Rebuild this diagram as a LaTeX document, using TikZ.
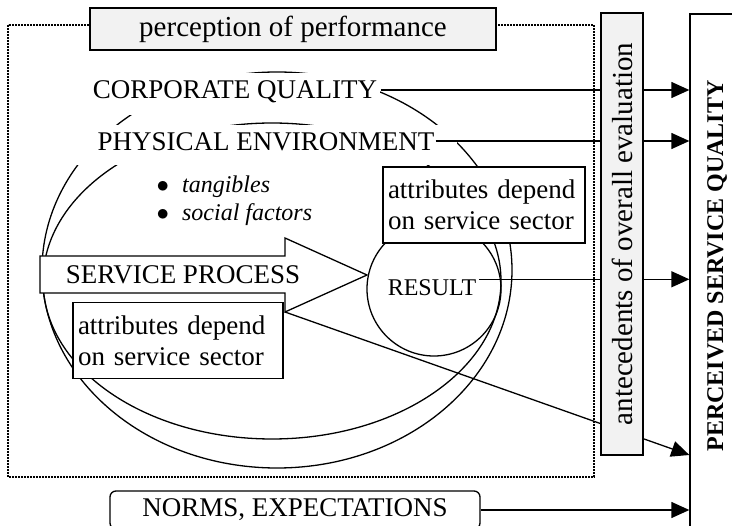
\documentclass[tikz,border=0pt]{standalone}
\usepackage{fontspec}
\setmainfont{Liberation Serif}
\usetikzlibrary{arrows.meta}

\tikzset{
  conn/.style={line width=1.3pt, -{Triangle[length=18pt,width=16pt]}},
  lbl/.style={fill=white, inner ysep=0pt, inner xsep=3pt, text height=26pt, text depth=16pt},
  attr/.style={draw, fill=white, align=left, inner xsep=5pt, inner ysep=0pt, minimum height=76pt},
  graybox/.style={draw, fill=gray!10, inner sep=0pt, font=\fontsize{29}{34}\selectfont},
}

\begin{document}
\begin{tikzpicture}[x=1pt, y=-1pt, line width=1.3pt,
  every node/.style={font=\fontsize{27}{31}\selectfont}]
\useasboundingbox (0,0) rectangle (732,526);

% frame round the perceived performance
\draw[line width=1.8pt, dash pattern=on 1.6pt off 1.4pt] (8,25) rectangle (594,477);

% corporate and physical ellipses
\draw (277,270) ellipse [x radius=235pt, y radius=198pt];
\draw (272,281) ellipse [x radius=229pt, y radius=158pt];

\node[lbl, anchor=base] (corp) at (235,99) {CORPORATE QUALITY};
\node[lbl, anchor=base, minimum width=382pt, text depth=14pt] (phys) at (266,151) {PHYSICAL ENVIRONMENT};

\node[anchor=west, align=left, inner sep=0pt, font=\fontsize{24}{28}\selectfont] (facts) at (156,201)
  {$\bullet$\hspace{13pt}\textit{tangibles}\\ $\bullet$\hspace{13pt}\textit{social factors}};

% service process arrow
\draw[fill=white] (40,256) -- (285,256) -- (285,238) -- (367,275) -- (285,312) coordinate (tail)
  -- (285,293) -- (40,293) -- cycle;
\node (proc) at (183,275) {SERVICE PROCESS};

% result
\node[circle, draw, minimum size=134pt] (resc) at (434,289) {};
\node[inner sep=0pt, inner xsep=2pt, font=\fontsize{24}{28}\selectfont] (res) at (432,288) {RESULT};

\node[attr, text width=192pt] (attrA) at (484,205) {attributes depend\\on service sector};
\node[attr, text width=200pt] (attrB) at (178,340.5) {attributes depend\\on service sector};

% perceived service quality (rotated, so .north is its left side)
\node[draw, fill=white, rotate=90, minimum width=516pt, minimum height=54pt, inner sep=0pt,
  font=\fontsize{24}{28}\selectfont\bfseries] (psq) at (717,272) {\hspace*{12pt}PERCEIVED SERVICE QUALITY};

\node[draw, rounded corners=6pt, minimum width=370pt, minimum height=38pt] (norms) at (295,510) {NORMS, EXPECTATIONS};

\coordinate (cq) at ([yshift=9pt]corp.base east);
\coordinate (pe) at ([xshift=-22pt,yshift=10pt]phys.base east);

\draw[conn] (cq) -- (cq -| psq.north);
\draw[conn] (pe) -- (pe -| psq.north);
\draw[conn] (res.north east) -- (res.north east -| psq.north);
\draw[conn] (tail) -- (psq.north |- 0,455);
\draw[conn] (norms.east) -- (norms.east -| psq.north);

\node[graybox, rotate=90, minimum width=442pt, minimum height=42pt] (ante) at (622,234) {antecedents of overall evaluation};
\node[graybox, minimum width=406pt, minimum height=42pt] (perf) at (293,29) {perception of performance};
\end{tikzpicture}
\end{document}
